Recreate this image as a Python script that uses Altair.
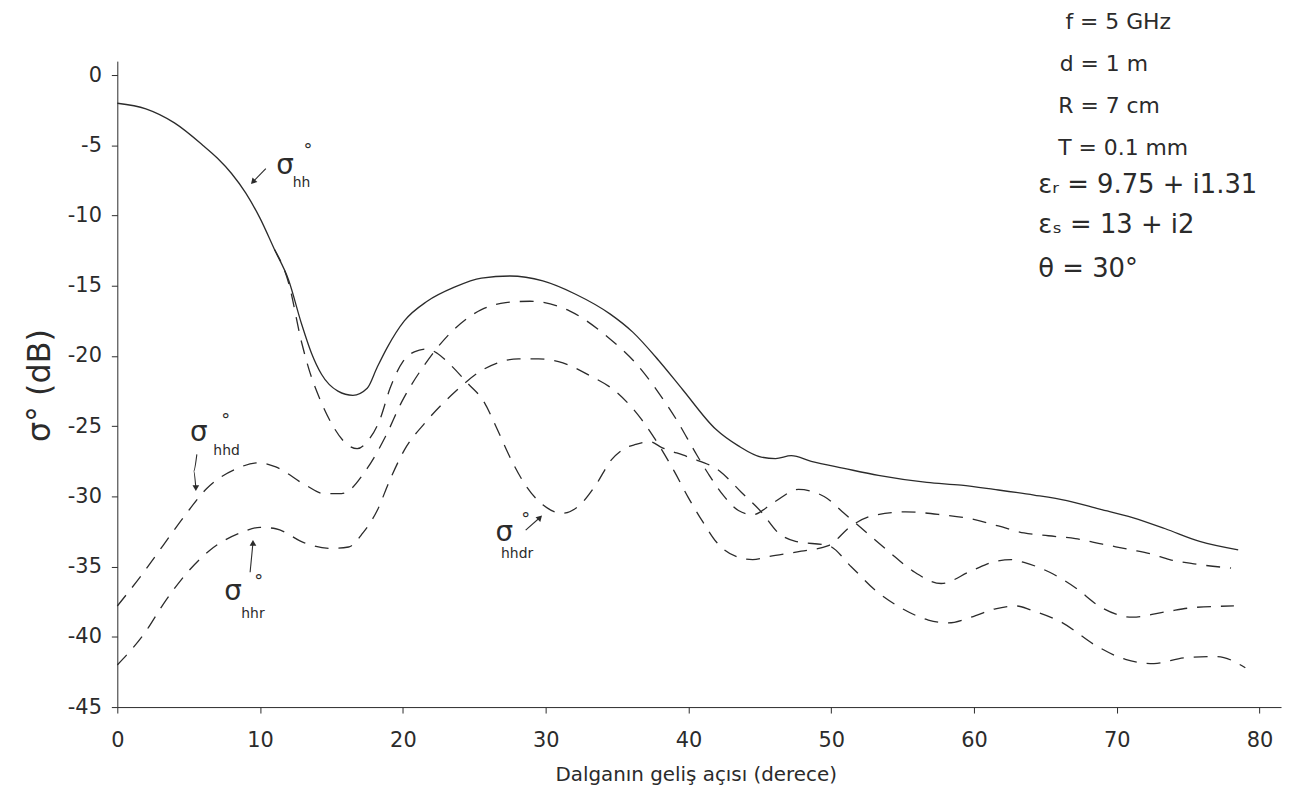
import altair as alt
import pandas as pd

# ---------------- curve data (angle in degrees, sigma in dB) ----------------
hh_deg = [0, 2, 4, 6, 7, 8, 9, 10, 11, 12, 12.9, 13.6, 14.3, 15.45, 16.5, 17.5, 18.2, 18.9, 20.1,
          21.7, 23.6, 25.5, 27.5, 29.8, 32.1, 34.5, 36.1, 37.9, 39.6, 41.9, 43.5, 45.1, 46.1, 47.2,
          48.6, 50.9, 53.3, 56.7, 59.1, 61.4, 64.2, 66.5, 68.8, 71.1, 73.4, 75.8, 78.5]
hh_db = [-2.0, -2.4, -3.4, -5.0, -5.9, -7.0, -8.4, -10.2, -12.4, -14.6, -17.7, -19.8, -21.3, -22.5,
         -22.8, -22.3, -20.8, -19.4, -17.5, -16.1, -15.1, -14.45, -14.3, -14.65, -15.6, -17.0, -18.3,
         -20.3, -22.4, -25.2, -26.4, -27.2, -27.3, -27.1, -27.5, -28.0, -28.5, -29.0, -29.2, -29.5,
         -29.9, -30.3, -30.9, -31.5, -32.3, -33.2, -33.8]

hhd_deg = [0, 1.7, 3.2, 4.7, 6.3, 8.4, 9.9, 11.1, 13.2, 14.5, 15.7, 17.5, 18.8, 19.9, 21.4, 23.1,
           25.5, 27.2, 28.9, 31.7, 34.4, 36.3, 37.9, 39.2, 40.5, 41.4, 42.5, 43.5, 44.5, 46.0, 47.7,
           49.5, 50.9, 52.5, 54.0, 55.7, 57.7, 59.8, 61.6, 62.6, 63.5, 65.3, 67.1, 68.9, 71.1, 73.5,
           75.5, 78.2]
hhd_db = [-37.8, -35.6, -33.5, -31.4, -29.4, -28.0, -27.6, -27.9, -29.2, -29.8, -29.8, -28.0, -25.7,
          -23.3, -20.8, -18.6, -16.7, -16.2, -16.1, -16.8, -18.7, -20.5, -22.6, -24.6, -26.9, -28.4,
          -30.0, -31.0, -31.3, -30.4, -29.5, -30.0, -31.2, -32.6, -33.9, -35.3, -36.2, -35.3, -34.6,
          -34.5, -34.7, -35.4, -36.5, -37.9, -38.6, -38.2, -37.9, -37.8]

hhr_deg = [0, 2.0, 3.2, 4.5, 6.4, 8.6, 10.0, 11.1, 13.1, 15.0, 16.2, 17.2, 18.2, 19.1, 20.1, 21.6,
           23.6, 25.4, 26.6, 28.1, 29.5, 30.9, 33.1, 35.0, 36.7, 37.9, 39.0, 40.0, 41.0, 42.0, 43.4,
           44.5, 45.5, 47.9, 49.8, 51.4, 52.8, 55.2, 57.7, 59.8, 61.7, 63.5, 65.2, 67.1, 69.0, 71.0,
           72.4, 73.7, 75.4, 78.0]
hhr_db = [-42.0, -39.6, -37.7, -35.9, -33.9, -32.6, -32.2, -32.3, -33.3, -33.7, -33.6, -32.6, -31.0,
          -28.8, -26.7, -24.7, -22.6, -21.1, -20.5, -20.2, -20.2, -20.4, -21.4, -22.6, -24.5, -26.3,
          -28.2, -30.1, -31.8, -33.3, -34.3, -34.5, -34.3, -33.9, -33.5, -32.1, -31.4, -31.1, -31.3,
          -31.6, -32.1, -32.6, -32.8, -33.0, -33.4, -33.8, -34.1, -34.5, -34.8, -35.1]

hhdr_deg = [11, 12, 12.9, 13.5, 14.2, 15.0, 16.1, 16.8, 17.5, 18.4, 19.1, 20.0, 20.8, 21.7, 22.4,
            23.2, 24.5, 25.7, 26.6, 27.4, 28.4, 29.8, 31.2, 32.4, 33.5, 34.6, 35.5, 36.3, 37.3, 38.1,
            40.0, 42.2, 43.7, 45.1, 46.3, 47.5, 49.8, 51.4, 53.1, 55.0, 56.8, 58.2, 59.8, 61.5, 63.0,
            64.0, 66.2, 68.5, 70.6, 72.6, 74.7, 77.0, 79.0]
hhdr_db = [-12.4, -14.8, -19.0, -21.2, -23.1, -24.8, -26.3, -26.6, -26.1, -24.5, -22.3, -20.4, -19.7,
           -19.5, -19.8, -20.5, -21.9, -23.3, -25.2, -27.0, -28.9, -30.6, -31.2, -30.6, -29.2, -27.4,
           -26.6, -26.3, -26.1, -26.5, -27.2, -28.2, -29.7, -31.1, -32.6, -33.2, -33.5, -35.0, -36.7,
           -38.0, -38.8, -39.0, -38.6, -38.0, -37.8, -38.1, -39.0, -40.6, -41.6, -41.9, -41.5, -41.4,
           -42.2]

x_ticks = [0, 10, 20, 30, 40, 50, 60, 70, 80]
y_ticks = [0, -5, -10, -15, -20, -25, -30, -35, -40, -45]

# ---------------- annotation texts ----------------
param_text = ["f = 5 GHz", "d = 1 m", "R = 7 cm", "T = 0.1 mm",
              "εᵣ = 9.75 + i1.31", "εₛ = 13 + i2", "θ = 30°"]
param_deg = [66.4, 66.0, 65.9, 65.9, 64.5, 64.5, 64.5]
param_db = [3.75, 0.78, -2.2, -5.2, -7.8, -10.7, -13.8]
param_size = [22, 22, 22, 22, 26, 26, 26]

sigma_deg = [11.75, 5.7, 8.1, 27.1]
sigma_db = [-6.5, -25.5, -36.8, -32.6]
deg_mark_deg = [13.35, 7.6, 9.9, 28.6]
deg_mark_db = [-5.4, -24.6, -36.1, -31.7]
sub_text = ["hh", "hhd", "hhr", "hhdr"]
sub_deg = [12.9, 7.65, 9.5, 28.0]
sub_db = [-7.7, -26.75, -38.4, -34.1]

arrow_id = ["a", "a", "b", "b", "b", "c", "c", "d", "d"]
arrow_deg = [10.4, 9.5, 5.57, 5.35, 5.5, 9.3, 9.5, 28.6, 29.6]
arrow_db = [-6.65, -7.6, -27.0, -28.2, -29.4, -35.4, -33.3, -32.4, -31.5]
head_deg = [9.5, 5.5, 9.5, 29.6]
head_db = [-7.6, -29.4, -33.3, -31.5]
head_angle = [223, 180, 0, 45]

INK = "#2b2b2b"
FONT = "DejaVu Sans"


def frame(name, xs, ys):
    return pd.DataFrame({"deg": xs, "db": ys, "curve": name})


solid_df = frame("hh", hh_deg, hh_db)
dashed_df = pd.concat([frame("hhd", hhd_deg, hhd_db),
                       frame("hhr", hhr_deg, hhr_db),
                       frame("hhdr", hhdr_deg, hhdr_db)])

x_enc = alt.X(
    "deg:Q",
    scale=alt.Scale(domain=[0, 81.5], nice=False, zero=False),
    axis=alt.Axis(values=x_ticks, title="Dalganın geliş açısı (derece)", grid=False,
                  tickSize=6, labelFontSize=21, labelPadding=17, labelFont=FONT,
                  labelColor=INK, domainColor=INK, tickColor=INK, titleColor=INK,
                  titleFont=FONT, titleFontSize=20, titleFontWeight="normal",
                  titleX=582, titleY=68, titleBaseline="middle", titleAnchor="middle",
                  labelFlush=False),
)
y_enc = alt.Y(
    "db:Q",
    scale=alt.Scale(domain=[-45, 1], nice=False, zero=False),
    axis=alt.Axis(values=y_ticks, title="σ° (dB)", grid=False,
                  labelExpr="datum.value == 0 ? '0' : '-' + abs(datum.value)",
                  tickSize=6, labelFontSize=21, labelPadding=10, labelFont=FONT,
                  labelColor=INK, domainColor=INK, tickColor=INK, titleColor=INK,
                  titleFont=FONT, titleFontSize=32, titleFontWeight="normal",
                  titleAngle=-90, titleX=-78, titleY=326, titleAlign="center",
                  titleBaseline="middle", labelFlush=False),
)

solid = alt.Chart(solid_df).mark_line(
    color=INK, strokeWidth=1.3, interpolate="monotone"
).encode(x=x_enc, y=y_enc)

dashed = alt.Chart(dashed_df).mark_line(
    color=INK, strokeWidth=1.3, strokeDash=[14, 10], interpolate="monotone"
).encode(x=x_enc, y=y_enc, detail="curve:N")

params = alt.Chart(pd.DataFrame({"deg": param_deg, "db": param_db, "t": param_text,
                                 "s": param_size})).mark_text(
    align="left", baseline="middle", font=FONT, color=INK
).encode(x=x_enc, y=y_enc, text="t:N", size=alt.Size("s:Q", scale=None, legend=None))

sigmas = alt.Chart(pd.DataFrame({"deg": sigma_deg, "db": sigma_db, "t": ["σ"] * 4})).mark_text(
    align="center", baseline="middle", font=FONT, fontSize=28, color=INK
).encode(x=x_enc, y=y_enc, text="t:N")

degmarks = alt.Chart(pd.DataFrame({"deg": deg_mark_deg, "db": deg_mark_db, "t": ["°"] * 4})).mark_text(
    align="center", baseline="middle", font=FONT, fontSize=18, color=INK
).encode(x=x_enc, y=y_enc, text="t:N")

subs = alt.Chart(pd.DataFrame({"deg": sub_deg, "db": sub_db, "t": sub_text})).mark_text(
    align="center", baseline="middle", font=FONT, fontSize=14, color=INK
).encode(x=x_enc, y=y_enc, text="t:N")

arrows = alt.Chart(pd.DataFrame({"deg": arrow_deg, "db": arrow_db, "id": arrow_id,
                                 "o": list(range(len(arrow_id)))})).mark_line(
    color=INK, strokeWidth=1.1, interpolate="monotone"
).encode(x=x_enc, y=y_enc, detail="id:N", order="o:Q")

heads = alt.Chart(pd.DataFrame({"deg": head_deg, "db": head_db, "ang": head_angle})).mark_point(
    shape="triangle-up", filled=True, size=45, color=INK, opacity=1
).encode(x=x_enc, y=y_enc, angle=alt.Angle("ang:Q", scale=None))

chart = alt.layer(solid, dashed, arrows, heads, params, sigmas, degmarks, subs).properties(
    width=1171, height=650,
    autosize=alt.AutoSizeParams(type="none"),
    padding={"left": 110, "top": 51, "right": 3, "bottom": 85},
    background="white",
).configure_view(stroke=None)

chart.save("out.html", embed_options={"renderer": "svg", "actions": False})
